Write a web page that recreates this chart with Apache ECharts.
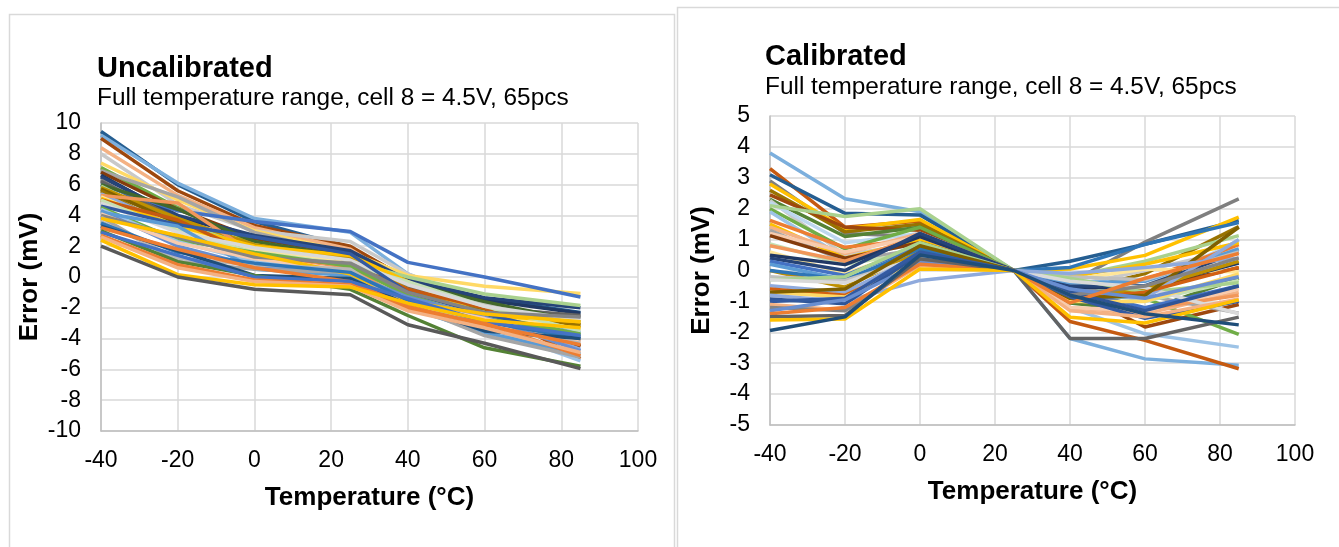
<!DOCTYPE html>
<html><head><meta charset="utf-8">
<script src="https://cdn.jsdelivr.net/npm/echarts@6/dist/echarts.min.js"></script>
<style>html,body{margin:0;padding:0;background:#fff}#c{width:1339px;height:547px}</style>
</head><body><div id="c"></div>
<script>
// Temperatures (°C) at which each part was measured
const temps = [-40, -20, 0, 25, 40, 60, 85];

// Uncalibrated error (mV), one row per part, values at temps
const uncalibrated = [
  [9.45, 6.0, 3.6, 1.9, -0.1, -1.4, -2.3],
  [9.2, 6.1, 3.8, 2.9, 0.2, -1.8, -3.6],
  [9.0, 5.6, 3.35, 2.0, -0.15, -2.1, -4.45],
  [8.4, 5.3, 3.2, 1.8, -0.5, -2.2, -4.2],
  [8.0, 4.7, 3.0, 2.3, 0.2, -1.7, -3.3],
  [7.4, 5.0, 3.0, 1.6, 0.1, -0.6, -1.07],
  [7.1, 4.5, 2.2, 0.6, -1.6, -2.3, -3.75],
  [6.9, 5.2, 2.9, 1.4, -0.3, -1.9, -2.6],
  [6.8, 4.4, 2.5, 1.5, -0.6, -2.3, -4.5],
  [6.6, 3.9, 2.6, 1.6, -0.3, -1.5, -2.35],
  [6.5, 4.0, 2.7, 1.7, -0.2, -1.35, -2.0],
  [6.3, 3.5, 1.7, 1.0, -0.7, -2.4, -2.6],
  [6.2, 3.8, 1.9, 1.1, -0.6, -2.0, -2.5],
  [6.0, 4.3, 3.6, 2.95, 0.95, 0.0, -1.3],
  [6.0, 4.4, 2.3, 1.3, -0.4, -1.6, -2.9],
  [5.9, 3.4, 2.1, 1.0, 0.0, -1.1, -1.85],
  [5.8, 3.8, 2.1, 1.2, -0.8, -2.2, -3.3],
  [5.7, 3.5, 1.7, 1.1, -1.1, -2.4, -3.1],
  [5.6, 3.0, 1.6, 0.7, -1.2, -2.2, -3.1],
  [5.4, 3.2, 0.9, 0.5, -1.1, -2.5, -4.7],
  [5.3, 4.8, 1.5, 0.6, -1.5, -2.7, -4.1],
  [5.2, 3.1, 1.8, 0.9, -1.4, -2.3, -3.4],
  [5.1, 3.3, 2.0, 1.4, -0.3, -2.5, -2.9],
  [5.0, 3.7, 1.4, 0.8, -0.8, -2.0, -5.3],
  [5.0, 3.0, 1.6, 0.8, -0.3, -1.9, -3.5],
  [4.8, 2.9, 1.9, 1.1, -0.5, -1.9, -2.8],
  [4.6, 3.4, 2.6, 1.5, -1.0, -2.4, -3.9],
  [4.5, 2.4, 1.6, 0.7, -1.2, -2.7, -3.7],
  [4.4, 2.3, 1.0, 0.3, -1.5, -3.2, -5.45],
  [4.3, 2.0, 0.7, 0.2, -1.3, -2.6, -4.8],
  [4.2, 3.3, 0.5, 0.1, -2.0, -3.6, -5.0],
  [4.1, 2.2, 1.2, 0.4, -1.7, -2.7, -4.2],
  [4.0, 2.6, 1.3, 0.9, -1.0, -2.3, -2.6],
  [3.9, 1.0, 0.5, 0.3, -1.8, -3.8, -5.2],
  [3.8, 2.7, 1.5, 0.2, -1.6, -2.4, -2.9],
  [3.6, 1.2, 0.8, 0.5, -1.9, -3.3, -4.3],
  [3.5, 1.6, 0.9, 0.3, -1.5, -2.9, -4.0],
  [3.3, 1.7, 0.1, -0.1, -1.8, -3.5, -4.0],
  [3.2, 1.8, 0.6, -0.3, -1.9, -3.1, -4.4],
  [3.0, 1.0, 0.1, -0.8, -2.5, -4.6, -5.8],
  [2.9, 1.4, 0.0, -0.3, -1.4, -2.9, -3.8],
  [2.7, 0.8, -0.2, -0.5, -2.1, -3.0, -5.1],
  [2.6, 0.6, -0.3, -0.6, -2.2, -3.3, -4.9],
  [2.4, 0.15, -0.5, -0.65, -1.7, -2.8, -3.3],
  [2.0, 0.0, -0.8, -1.15, -3.1, -4.3, -5.95]
];

// Calibrated error (mV), one row per part, values at temps
const calibrated = [
  [3.8, 2.32, 1.9, 0, -2.2, -2.86, -3.07],
  [3.3, 1.4, 1.6, 0, -1.65, -2.26, -3.18],
  [3.1, 1.85, 1.8, 0, 0.3, 0.85, 1.62],
  [2.9, 1.2, 1.1, 0, -0.4, 0.92, 2.32],
  [2.8, 1.35, 1.65, 0, 0.05, 0.49, 1.73],
  [2.6, 1.25, 1.5, 0, -0.7, -0.1, 1.42],
  [2.45, 1.4, 1.3, 0, -0.6, -1.83, -1.1],
  [2.3, 1.1, 1.4, 0, -1.05, -1.3, -0.25],
  [2.27, 0.5, 0.9, 0, -0.5, 0.0, 0.7],
  [2.2, 0.9, 1.2, 0, -0.3, -0.5, 0.97],
  [2.1, 1.75, 2.0, 0, -0.2, 0.3, 1.13],
  [2.0, 0.7, 1.4, 0, -0.8, -0.9, -2.07],
  [1.9, 0.4, 0.9, 0, -1.2, -2.05, -2.48],
  [1.62, 0.75, 1.0, 0, -0.9, -0.3, 0.84],
  [1.5, 0.4, 1.0, 0, -0.2, 0.2, 0.9],
  [1.4, 0.55, 1.2, 0, -1.2, -1.4, -0.7],
  [1.3, 0.3, 0.7, 0, -0.5, -0.8, -1.38],
  [1.2, 0.6, 1.1, 0, -1.2, -1.3, -0.6],
  [1.13, 0.4, 0.9, 0, -0.9, -0.6, 0.09],
  [0.86, 0.2, 0.6, 0, -0.3, -1.0, -0.32],
  [0.8, 0.3, 1.1, 0, -0.95, -1.25, -0.8],
  [0.6, -0.1, 0.75, 0, -0.3, 0.05, -0.05],
  [0.49, 0.19, 1.1, 0, -0.55, -0.55, 0.24],
  [0.4, 0.0, 1.2, 0, -0.5, -0.5, 0.59],
  [0.3, -0.16, 0.8, 0, -0.6, -1.2, -0.49],
  [0.2, -0.3, 0.55, 0, -0.4, -0.35, 0.7],
  [0.0, -0.54, 0.6, 0, -0.85, -0.6, 0.3],
  [0.0, -0.3, 0.7, 0, 0.1, 0.85, 1.55],
  [-0.2, -0.32, 0.4, 0, -0.2, -0.3, 0.6],
  [-0.3, -0.2, 0.9, 0, -0.25, -0.7, -0.4],
  [-0.3, -0.4, 0.45, 0, -0.35, -0.55, -1.4],
  [-0.49, -0.7, 0.5, 0, -0.75, -0.9, 1.0],
  [-0.6, -0.8, 0.3, 0, -0.95, -0.7, 0.1],
  [-0.7, -0.86, 0.3, 0, -1.0, -1.0, -0.11],
  [-0.7, -0.6, 0.8, 0, -0.9, -0.8, 1.4],
  [-0.8, -1.0, -0.32, 0, -0.1, 0.1, 0.4],
  [-0.92, -1.08, 0.55, 0, -0.7, -1.3, -0.5],
  [-1.0, -0.9, 0.6, 0, -0.85, -1.55, -1.0],
  [-1.1, -1.29, 0.16, 0, -1.3, -1.5, -0.92],
  [-1.2, -1.3, 0.3, 0, -0.8, -0.5, 0.41],
  [-1.3, -0.95, 0.25, 0, -0.6, -0.9, -0.2],
  [-1.4, -1.2, 0.2, 0, -1.05, -0.25, 0.55],
  [-1.5, -1.46, 0.38, 0, -2.2, -2.2, -1.51],
  [-1.6, -1.57, 0.05, 0, -1.51, -1.7, -0.95],
  [-1.94, -1.5, 0.5, 0, -0.8, -1.4, -1.76]
];

// Excel-like series colours, one per row above
const colorsUncal = ['#255E91','#7CAFDD','#9E480E','#F4B183','#C9C9C9','#FFD966','#70AD47','#A5A5A5','#843C0C','#203864',
  '#264478','#7F7F7F','#636363','#4472C4','#43682B','#A9D18E','#BF9000','#7F6000','#997300','#8FAADC',
  '#F1975A','#FFE699','#FFC000','#C55A11','#C5E0B4','#D9D9D9','#335AA1','#70AD47','#9DC3E6','#698ED0',
  '#5B9BD5','#F8CBAD','#848484','#A5A5A5','#FFC000','#B7B7B7','#2E75B6','#1F4E79','#ED7D31','#548235',
  '#4472C4','#ED7D31','#F4B183','#FFC000','#595959'];
const colorsCal = ['#7CAFDD','#C55A11','#255E91','#7F7F7F','#FFC000','#997300','#9E480E','#548235','#C9C9C9','#BDD7EE',
  '#A9D18E','#70AD47','#9DC3E6','#ED7D31','#FFC000','#F4B183','#A5A5A5','#F8CBAD','#843C0C','#C5E0B4',
  '#F1975A','#FFE699','#203864','#264478','#4472C4','#5B9BD5','#BF9000','#2E75B6','#BFBFBF','#A9D18E',
  '#D9D9D9','#8FAADC','#D26012','#FFD966','#7F6000','#8FAADC','#2F5597','#335AA1','#F4B183','#848484',
  '#698ED0','#ED7D31','#636363','#FFC000','#1F4E79'];

const xTicks = [-40, -20, 0, 20, 40, 60, 80, 100];
const titles = ['Uncalibrated', 'Calibrated'];
const subtitle = 'Full temperature range, cell 8 = 4.5V, 65pcs';
const xName = 'Temperature (°C)';
const yName = 'Error (mV)';

const FONT = 'Liberation Sans, Arial, sans-serif';
const chart = echarts.init(document.getElementById('c'), null, {renderer: 'canvas'});

function xAxisCfg(gi) {
  return {
    gridIndex: gi, type: 'value', min: xTicks[0], max: xTicks[xTicks.length - 1], interval: 20,
    name: xName, nameLocation: 'middle', nameGap: 54,
    nameTextStyle: {fontFamily: FONT, fontSize: 26, fontWeight: 'bold', color: '#000'},
    axisLine: {show: true, onZero: false, lineStyle: {color: '#BFBFBF', width: 1.5}},
    axisTick: {show: false},
    axisLabel: {fontFamily: FONT, fontSize: 23, color: '#000', margin: 18},
    splitLine: {show: true, lineStyle: {color: '#D9D9D9', width: 1.5}}
  };
}
function yAxisCfg(gi, mn, mx, step, gap) {
  return {
    gridIndex: gi, type: 'value', min: mn, max: mx, interval: step,
    name: yName, nameLocation: 'middle', nameGap: gap,
    nameTextStyle: {fontFamily: FONT, fontSize: 26, fontWeight: 'bold', color: '#000'},
    axisLine: {show: true, onZero: false, lineStyle: {color: '#BFBFBF', width: 1.5}},
    axisTick: {show: false},
    axisLabel: {fontFamily: FONT, fontSize: 23, color: '#000', margin: 20},
    splitLine: {show: true, lineStyle: {color: '#D9D9D9', width: 1.5}}
  };
}

const series = [];
uncalibrated.forEach((row, i) => {
  series.push({type: 'line', xAxisIndex: 0, yAxisIndex: 0, showSymbol: false, silent: true,
    data: temps.map((t, k) => [t, row[k]]),
    lineStyle: {width: 3.5, color: colorsUncal[i % colorsUncal.length]}, itemStyle: {color: colorsUncal[i % colorsUncal.length]}});
});
calibrated.forEach((row, i) => {
  series.push({type: 'line', xAxisIndex: 1, yAxisIndex: 1, showSymbol: false, silent: true,
    data: temps.map((t, k) => [t, row[k]]),
    lineStyle: {width: 3.5, color: colorsCal[i % colorsCal.length]}, itemStyle: {color: colorsCal[i % colorsCal.length]}});
});

chart.setOption({
  animation: false,
  backgroundColor: '#fff',
  grid: [
    {left: 101, top: 123, width: 537, height: 308},
    {left: 770, top: 116, width: 525, height: 309}
  ],
  xAxis: [xAxisCfg(0), xAxisCfg(1)],
  yAxis: [yAxisCfg(0, -10, 10, 2, 58), yAxisCfg(1, -5, 5, 1, 55)],
  series: series,
  graphic: [
    {type: 'rect', shape: {x: 9.5, y: 14.5, width: 665, height: 600}, style: {fill: 'none', stroke: '#D9D9D9', lineWidth: 1.5}, z: -1},
    {type: 'rect', shape: {x: 677.5, y: 7.5, width: 700, height: 600}, style: {fill: 'none', stroke: '#D9D9D9', lineWidth: 1.5}, z: -1},
    {type: 'text', left: 97, top: 54, style: {text: titles[0], font: 'bold 29px ' + FONT, fill: '#000'}},
    {type: 'text', left: 97, top: 86, style: {text: subtitle, font: '24.4px ' + FONT, fill: '#000'}},
    {type: 'text', left: 765, top: 42, style: {text: titles[1], font: 'bold 29px ' + FONT, fill: '#000'}},
    {type: 'text', left: 765, top: 75, style: {text: subtitle, font: '24.4px ' + FONT, fill: '#000'}}
  ]
});
</script></body></html>
